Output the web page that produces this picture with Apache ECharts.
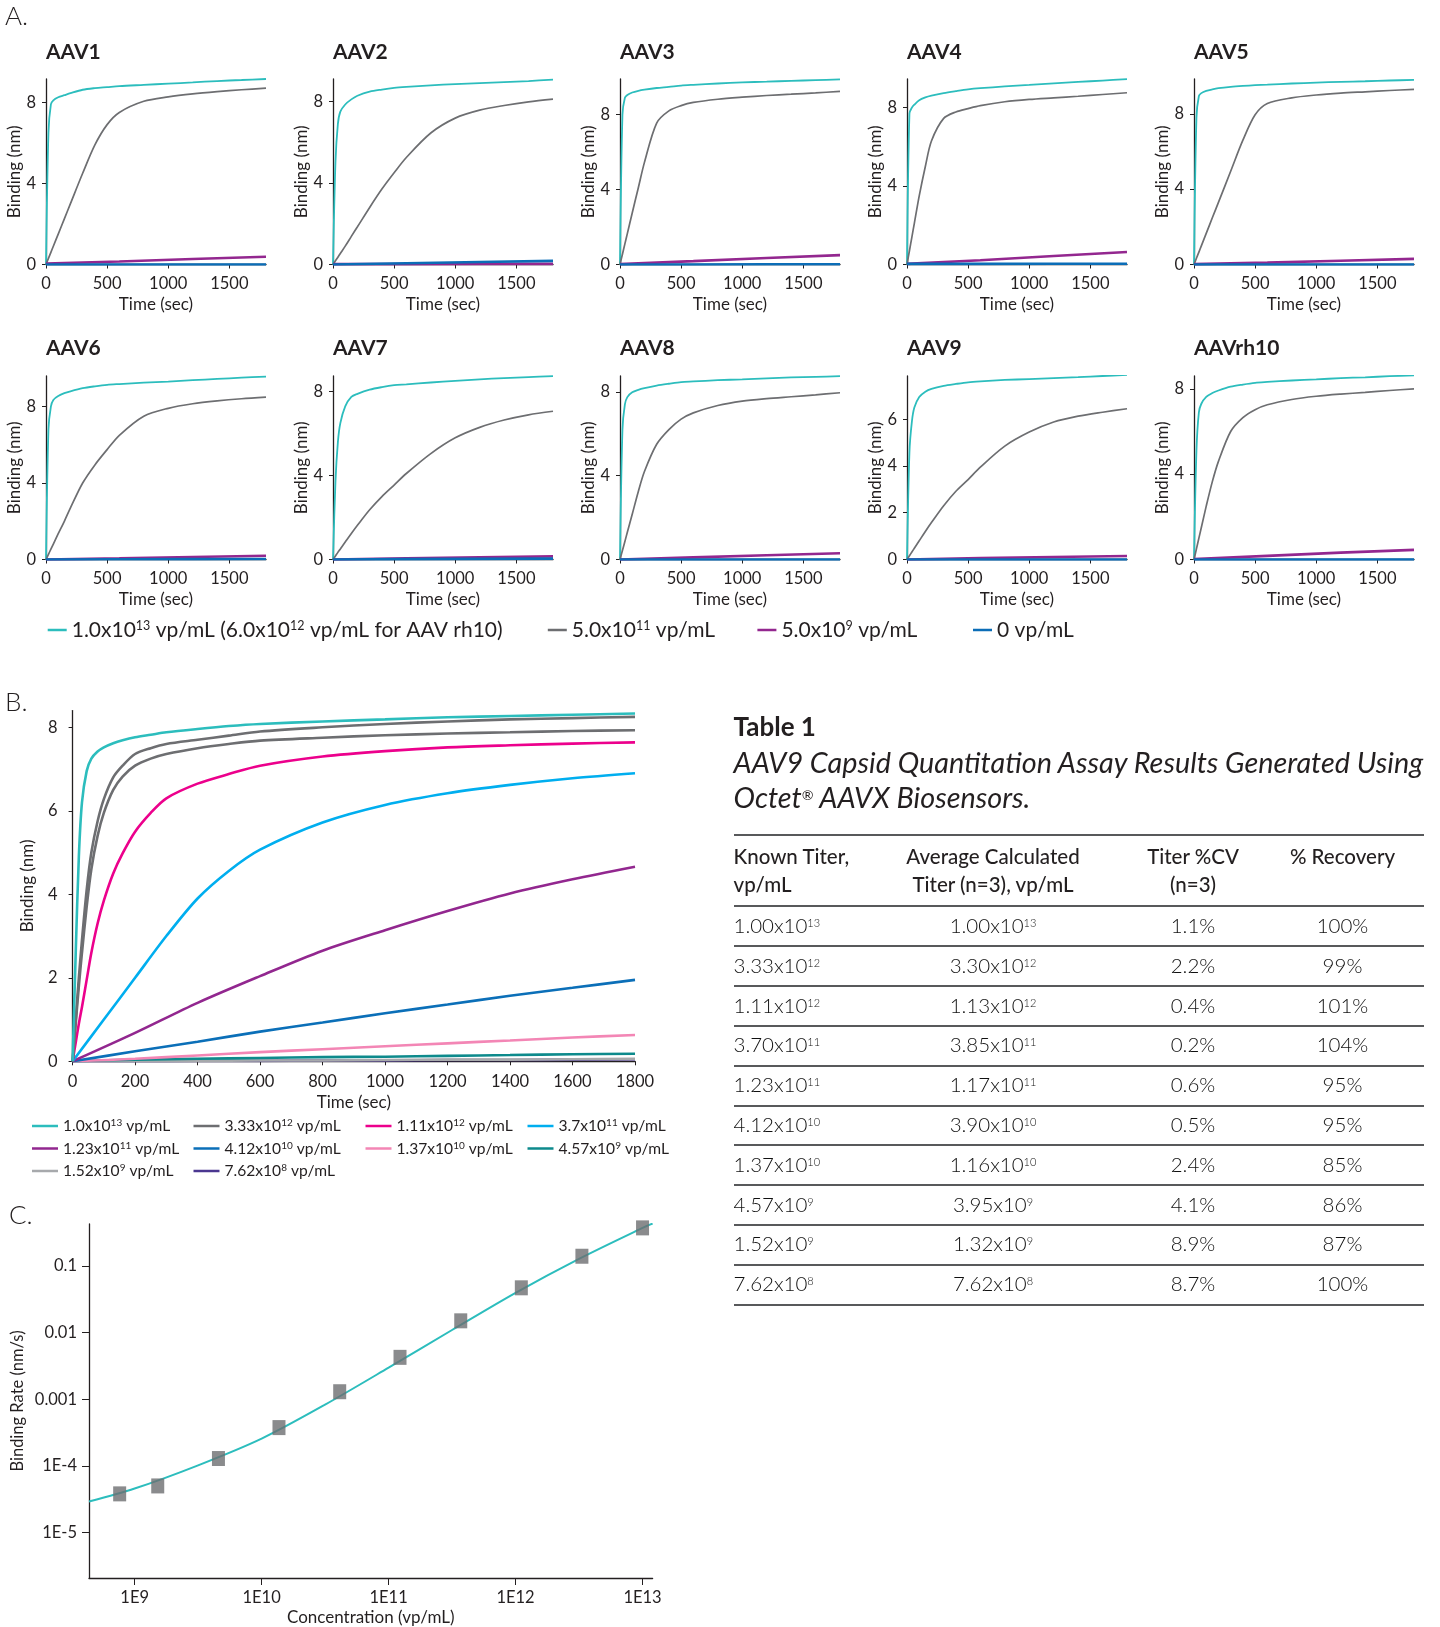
<!DOCTYPE html>
<html><head><meta charset="utf-8">
<script src="https://cdn.jsdelivr.net/npm/echarts@6/dist/echarts.min.js"></script>
<style>
html,body{margin:0;padding:0;background:#fff;}
#chart{position:absolute;left:0;top:0;width:1440px;height:1627px;}
#tbl{position:absolute;left:0;top:0;width:1440px;height:1627px;pointer-events:none;font-family:Lato,"Open Sans",sans-serif;color:#231f20;}
#tbl div{position:absolute;white-space:nowrap;}
.sup{font-size:11px;vertical-align:top;position:relative;top:-3px;}
.rule{background:#58595b;height:1.5px;}
</style></head><body>
<div id="chart"></div>
<div id="tbl"></div>
<script>
// ---------------- Panel A data ----------------
const panelNames = ['AAV1','AAV2','AAV3','AAV4','AAV5','AAV6','AAV7','AAV8','AAV9','AAVrh10'];
const tA = [0,20,40,60,100,150,200,300,400,500,600,800,1000,1200,1400,1600,1800];
const tLow = [0,600,1200,1800];
const xTicksA = [0,500,1000,1500];

const aav1Hi  = [0,6.5,7.9,8.1,8.25,8.35,8.45,8.62,8.7,8.75,8.8,8.86,8.92,8.98,9.05,9.1,9.15];
const aav1Mid = [0,0.3,0.6,0.9,1.5,2.25,3.0,4.5,5.9,6.9,7.5,8.05,8.27,8.42,8.53,8.62,8.7];
const aav1Low = [0.05,0.15,0.27,0.38];
const aav1Zero= [0,0,0,0];

const aav2Hi  = [0,5.0,6.9,7.5,7.85,8.1,8.28,8.48,8.58,8.66,8.71,8.79,8.85,8.9,8.95,9.0,9.07];
const aav2Mid = [0,0.18,0.36,0.54,0.9,1.38,1.85,2.8,3.7,4.5,5.25,6.45,7.18,7.57,7.8,7.98,8.11];
const aav2Low = [0.02,0.02,0.03,0.03];
const aav2Zero= [0,0.06,0.12,0.18];

const aav3Hi  = [0,8.0,8.9,9.05,9.18,9.27,9.33,9.42,9.48,9.55,9.59,9.66,9.72,9.76,9.8,9.84,9.88];
const aav3Mid = [0,0.55,1.1,1.65,2.75,4.1,5.45,7.55,8.2,8.48,8.65,8.82,8.93,9.02,9.09,9.16,9.24];
const aav3Low = [0.02,0.18,0.35,0.5];
const aav3Zero= [0,0,0.01,0.01];

const aav4Hi  = [0,7.7,8.0,8.15,8.38,8.52,8.61,8.74,8.84,8.93,8.99,9.08,9.16,9.24,9.31,9.38,9.45];
const aav4Mid = [0,0.7,1.4,2.1,3.5,5.0,6.3,7.45,7.78,7.95,8.1,8.3,8.42,8.5,8.58,8.67,8.76];
const aav4Low = [0.03,0.22,0.43,0.64];
const aav4Zero= [0.03,0.03,0.04,0.04];

const aav5Hi  = [0,7.8,8.95,9.1,9.22,9.3,9.36,9.43,9.48,9.52,9.55,9.61,9.66,9.7,9.73,9.77,9.8];
const aav5Mid = [0,0.33,0.66,0.99,1.65,2.48,3.3,4.95,6.6,7.95,8.55,8.85,9.0,9.1,9.17,9.24,9.3];
const aav5Low = [0.02,0.1,0.2,0.3];
const aav5Zero= [0,0,0,0];

const aav6Hi  = [0,6.8,8.0,8.35,8.55,8.7,8.8,8.96,9.06,9.14,9.18,9.25,9.31,9.38,9.45,9.51,9.57];
const aav6Mid = [0,0.27,0.54,0.81,1.35,2.0,2.7,4.0,4.95,5.75,6.5,7.5,7.91,8.15,8.3,8.41,8.49];
const aav6Low = [0,0.06,0.13,0.2];
const aav6Zero= [0,0.01,0.02,0.03];

const aav7Hi  = [0,3.7,5.6,6.5,7.3,7.75,7.9,8.1,8.22,8.31,8.35,8.44,8.52,8.59,8.65,8.7,8.74];
const aav7Mid = [0,0.17,0.34,0.5,0.83,1.24,1.63,2.37,3.0,3.55,4.1,5.05,5.8,6.3,6.65,6.9,7.07];
const aav7Low = [0,0.06,0.11,0.15];
const aav7Zero= [0,0.02,0.03,0.04];

const aav8Hi  = [0,6.2,7.4,7.75,7.98,8.1,8.18,8.3,8.39,8.47,8.5,8.56,8.6,8.65,8.69,8.72,8.75];
const aav8Mid = [0,0.43,0.86,1.3,2.16,3.25,4.2,5.5,6.2,6.7,7.0,7.35,7.56,7.68,7.77,7.86,7.96];
const aav8Low = [0,0.1,0.2,0.3];
const aav8Zero= [0,0,0,0];

const aav9Hi  = [0,4.6,5.9,6.5,6.95,7.18,7.3,7.43,7.51,7.58,7.62,7.68,7.72,7.76,7.8,7.85,7.9];
const aav9Mid = [0,0.16,0.32,0.48,0.8,1.2,1.58,2.3,2.92,3.42,3.95,4.85,5.45,5.88,6.13,6.3,6.45];
const aav9Low = [0,0.06,0.11,0.15];
const aav9Zero= [0,0,0,0];

const aavRh10Hi  = [0,5.1,6.9,7.3,7.62,7.8,7.92,8.1,8.2,8.28,8.32,8.39,8.44,8.5,8.54,8.59,8.63];
const aavRh10Mid = [0,0.5,1.0,1.5,2.5,3.65,4.6,6.0,6.65,7.02,7.25,7.5,7.65,7.75,7.83,7.92,8.0];
const aavRh10Low = [0.02,0.17,0.32,0.45];
const aavRh10Zero= [0,0,0,0];

const yMaxA = [9.15,9.1,9.9,9.46,9.85,9.6,8.75,8.76,7.85,8.6];
const yTicksA = [[0,4,8],[0,4,8],[0,4,8],[0,4,8],[0,4,8],[0,4,8],[0,4,8],[0,4,8],[0,2,4,6],[0,4,8]];

const seriesNamesA = ['1.0x10¹³ vp/mL (6.0x10¹² vp/mL for AAV rh10)','5.0x10¹¹ vp/mL','5.0x10⁹ vp/mL','0 vp/mL'];
const legendTextA = ['1.0x10{s|13} vp/mL (6.0x10{s|12} vp/mL for AAV rh10)','5.0x10{s|11} vp/mL','5.0x10{s|9} vp/mL','0 vp/mL'];
const colorsA = ['#2cbdbd','#6d6e71','#93278f','#0b6db7'];

// ---------------- Panel B data ----------------
const tB = [0,10,20,30,45,60,80,100,130,160,200,250,300,400,500,600,800,1000,1200,1400,1600,1800];
const tB2 = [0,100,200,300,400,500,600,800,1000,1200,1400,1600,1800];
const tB3 = [0,200,400,600,800,1000,1200,1400,1600,1800];
const b1e13    = [0,2.6,4.9,6.2,6.95,7.25,7.42,7.52,7.62,7.69,7.76,7.82,7.88,7.96,8.03,8.08,8.14,8.19,8.24,8.27,8.3,8.33];
const b333e12a = [0,1.0,2.0,2.9,4.1,5.0,5.75,6.28,6.8,7.08,7.36,7.5,7.6,7.7,7.8,7.9,8.0,8.08,8.14,8.19,8.22,8.25];
const b333e12b = [0,0.9,1.8,2.6,3.7,4.6,5.4,5.95,6.5,6.82,7.08,7.25,7.36,7.5,7.6,7.68,7.75,7.81,7.85,7.88,7.91,7.93];
const b111e12  = [0,0.45,0.9,1.3,1.95,2.6,3.3,3.85,4.5,4.98,5.5,5.95,6.3,6.65,6.88,7.08,7.3,7.43,7.52,7.57,7.61,7.64];
const b37e11   = [0,1.0,2.0,3.0,3.9,4.56,5.07,5.72,6.14,6.42,6.62,6.78,6.9];
const b123e11  = [0,0.68,1.4,2.04,2.65,3.14,3.6,4.02,4.36,4.66];
const b412e10  = [0,0.24,0.47,0.71,0.93,1.15,1.36,1.57,1.76,1.95];
const b137e10  = [0,0.06,0.14,0.22,0.29,0.36,0.43,0.5,0.57,0.63];
const b457e9   = [0,0.04,0.06,0.08,0.1,0.11,0.13,0.15,0.17,0.18];
const b152e9   = [0,0,0.01,0.02,0.02,0.03,0.04,0.04,0.05,0.06];
const b762e8   = [0,0,0.01,0.01,0.02,0.02,0.03,0.03,0.04,0.05];

const concMantB = ['1.0','3.33','1.11','3.7','1.23','4.12','1.37','4.57','1.52','7.62'];
const concExpB  = [13,12,12,11,11,10,10,9,9,8];
const colorsB = ['#2cbdbd','#6d6e71','#ec008c','#00aeef','#92278f','#0b6fb8','#f386b5','#0d8a8c','#a7a9ac','#4b3790'];
const yTicksB = [0,2,4,6,8];

// ---------------- Panel C data ----------------
const cConc = [7.62e8,1.52e9,4.57e9,1.37e10,4.12e10,1.23e11,3.70e11,1.11e12,3.33e12,1.00e13];
const cRate = [3.8e-5,5.0e-5,1.29e-4,3.76e-4,1.30e-3,4.27e-3,1.51e-2,4.73e-2,0.141,0.376];
const fitConc = [4.37e8,1e9,3.16e9,1e10,3.16e10,1e11,3.16e11,1e12,3.16e12,1e13,1.2e13];
const fitRate = [2.92e-5,4.57e-5,1.02e-4,2.57e-4,8.32e-4,2.99e-3,1.10e-2,3.98e-2,0.129,0.376,0.437];
const cTickX = [1e9,1e10,1e11,1e12,1e13];
const cTickXLabels = ['1E9','1E10','1E11','1E12','1E13'];
const cTickY = [1e-5,1e-4,1e-3,1e-2,1e-1];
const cTickYLabels = ['1E-5','1E-4','0.001','0.01','0.1'];

// ---------------- Table data ----------------
const knownMant = ['1.00','3.33','1.11','3.70','1.23','4.12','1.37','4.57','1.52','7.62'];
const knownExp  = [13,12,12,11,11,10,10,9,9,8];
const calcMant  = ['1.00','3.30','1.13','3.85','1.17','3.90','1.16','3.95','1.32','7.62'];
const calcExp   = [13,12,12,11,11,10,10,9,9,8];
const titerCV   = ['1.1%','2.2%','0.4%','0.2%','0.6%','0.5%','2.4%','4.1%','8.9%','8.7%'];
const recovery  = ['100%','99%','101%','104%','95%','95%','85%','86%','87%','100%'];

// ---------------- Build chart ----------------
const FONT = 'Lato, "Open Sans", sans-serif';
const INK = '#231f20';
const TICK_FS = 16.5, NAME_FS = 17;
const plain = v => String(v);
const panelsA = [
  [aav1Hi,aav1Mid,aav1Low,aav1Zero],[aav2Hi,aav2Mid,aav2Low,aav2Zero],[aav3Hi,aav3Mid,aav3Low,aav3Zero],
  [aav4Hi,aav4Mid,aav4Low,aav4Zero],[aav5Hi,aav5Mid,aav5Low,aav5Zero],[aav6Hi,aav6Mid,aav6Low,aav6Zero],
  [aav7Hi,aav7Mid,aav7Low,aav7Zero],[aav8Hi,aav8Mid,aav8Low,aav8Zero],[aav9Hi,aav9Mid,aav9Low,aav9Zero],
  [aavRh10Hi,aavRh10Mid,aavRh10Low,aavRh10Zero]
];
const zip = (xs, ys) => xs.map((x, k) => [x, ys[k]]);

const grids = [], xAxes = [], yAxes = [], series = [], graphics = [], legends = [];
const axisCommon = (extra) => Object.assign({
  axisLine: {show: true, onZero: false, lineStyle: {color: INK, width: 1.3}},
  splitLine: {show: false},
  nameTextStyle: {fontSize: NAME_FS, color: INK, fontFamily: FONT},
}, extra);

panelNames.forEach((nm, i) => {
  const col = i % 5, row = Math.floor(i / 5);
  const left = 46 + 287 * col;
  const top = row === 0 ? 79 : 376;
  const height = row === 0 ? 185.5 : 183.5;
  grids.push({left: left, top: top, width: 220, height: height, containLabel: false, outerBoundsMode: 'none'});
  xAxes.push(axisCommon({
    type: 'value', gridIndex: i, min: 0, max: 1800, interval: 500,
    axisTick: {show: true, length: 4, lineStyle: {color: INK}, customValues: xTicksA},
    axisLabel: {fontSize: TICK_FS, color: INK, fontFamily: FONT, margin: 10.5, customValues: xTicksA, formatter: plain},
    name: 'Time (sec)', nameLocation: 'middle', nameGap: 31.5
  }));
  const yt = yTicksA[i];
  yAxes.push(axisCommon({
    type: 'value', gridIndex: i, min: 0, max: yMaxA[i], interval: yt[1] - yt[0],
    axisTick: {show: true, length: 4, lineStyle: {color: INK}, customValues: yt},
    axisLabel: {fontSize: TICK_FS, color: INK, fontFamily: FONT, margin: 10, customValues: yt, formatter: plain},
    name: 'Binding (nm)', nameLocation: 'middle', nameGap: 21
  }));
  const d = panelsA[i];
  const widths = [1.8, 1.7, 2.6, 2.6];
  for (let s = 0; s < 4; s++) {
    series.push({
      type: 'line', name: seriesNamesA[s], xAxisIndex: i, yAxisIndex: i,
      data: zip(s < 2 ? tA : tLow, d[s]), showSymbol: false, symbol: 'none', smooth: s < 2 ? 0.3 : false,
      color: colorsA[s], lineStyle: {width: widths[s], color: colorsA[s]},
      animation: false, silent: true, z: 2 + s
    });
  }
  graphics.push({type: 'text', x: left, y: row === 0 ? 52 : 348.5,
    style: {text: nm, fill: INK, fontSize: 21, fontWeight: 'bold', fontFamily: FONT, verticalAlign: 'middle', align: 'left'}});
});

// legend A
const legALeft = [47.7, 547.8, 757.4, 973];
seriesNamesA.forEach((nm, k) => {
  legends.push({
    data: [nm], left: legALeft[k], top: 619.5, padding: 0, icon: 'rect', itemWidth: 19, itemHeight: 2.5,
    selectedMode: false, formatter: () => legendTextA[k],
    textStyle: {fontSize: 21, color: INK, fontFamily: FONT, rich: {s: {fontSize: 12.5, fontFamily: FONT, color: INK, verticalAlign: 'top', lineHeight: 12}}}
  });
});

// Panel B
const gB = 10;
grids.push({left: 72.6, top: 710.6, width: 562.4, height: 350.7, containLabel: false, outerBoundsMode: 'none'});
xAxes.push(axisCommon({
  type: 'value', gridIndex: gB, min: 0, max: 1800, interval: 200,
  axisTick: {show: true, length: 4, lineStyle: {color: INK}},
  axisLabel: {fontSize: TICK_FS, color: INK, fontFamily: FONT, margin: 12, formatter: plain},
  name: 'Time (sec)', nameLocation: 'middle', nameGap: 33
}));
yAxes.push(axisCommon({
  type: 'value', gridIndex: gB, min: 0, max: 8.4, interval: 2,
  axisTick: {show: true, length: 4, lineStyle: {color: INK}, customValues: yTicksB},
  axisLabel: {fontSize: TICK_FS, color: INK, fontFamily: FONT, margin: 15, customValues: yTicksB, formatter: plain},
  name: 'Binding (nm)', nameLocation: 'middle', nameGap: 37
}));
const namesB = concMantB.map((m, k) => m + 'x10^' + concExpB[k] + ' vp/mL');
const legendTextB = concMantB.map((m, k) => m + 'x10{s|' + concExpB[k] + '} vp/mL');
const dataB = [
  [zip(tB, b1e13)], [zip(tB, b333e12a), zip(tB, b333e12b)], [zip(tB, b111e12)], [zip(tB2, b37e11)],
  [zip(tB3, b123e11)], [zip(tB3, b412e10)], [zip(tB3, b137e10)], [zip(tB3, b457e9)], [zip(tB3, b152e9)], [zip(tB3, b762e8)]
];
const drawOrderB = [9,8,7,6,5,4,3,2,1,0];
drawOrderB.forEach((k, ord) => {
  dataB[k].forEach(d => {
    series.push({
      type: 'line', name: namesB[k], xAxisIndex: gB, yAxisIndex: gB, data: d, smooth: 0.3,
      showSymbol: false, symbol: 'none', color: colorsB[k], lineStyle: {width: 2.6, color: colorsB[k]},
      animation: false, silent: true, z: 2 + ord
    });
  });
});
const legBCols = [[0,4,8],[1,5,9],[2,6],[3,7]];
const legBLeft = [32, 193.5, 365.5, 527.5];
legBCols.forEach((cols, c) => {
  legends.push({
    data: cols.map(k => namesB[k]), left: legBLeft[c], top: 1118, padding: 0, orient: 'vertical', itemGap: 6.5,
    icon: 'rect', itemWidth: 26, itemHeight: 2.5, selectedMode: false,
    formatter: (n) => legendTextB[namesB.indexOf(n)],
    textStyle: {fontSize: 15.6, color: INK, fontFamily: FONT, rich: {s: {fontSize: 10, fontFamily: FONT, color: INK, verticalAlign: 'top', lineHeight: 10}}}
  });
});

// Panel C
const gC = 11;
grids.push({left: 89, top: 1224, width: 563.6, height: 354, containLabel: false, outerBoundsMode: 'none'});
xAxes.push(axisCommon({
  type: 'log', logBase: 10, gridIndex: gC, min: 4.37e8, max: 1.2e13,
  axisTick: {show: true, length: 7, lineStyle: {color: INK}, customValues: cTickX},
  axisLabel: {fontSize: TICK_FS, color: INK, fontFamily: FONT, margin: 11, customValues: cTickX,
    formatter: v => cTickXLabels[Math.round(Math.log10(v)) - 9] || ''},
  name: 'Concentration (vp/mL)', nameLocation: 'middle', nameGap: 31.5
}));
yAxes.push(axisCommon({
  type: 'log', logBase: 10, gridIndex: gC, min: 2.07e-6, max: 0.43,
  axisTick: {show: true, length: 7, lineStyle: {color: INK}, customValues: cTickY},
  axisLabel: {fontSize: TICK_FS, color: INK, fontFamily: FONT, margin: 12, customValues: cTickY,
    formatter: v => cTickYLabels[Math.round(Math.log10(v)) + 5] || ''},
  name: 'Binding Rate (nm/s)', nameLocation: 'middle', nameGap: 63, nameTextStyle: {fontSize: 16.5, color: INK, fontFamily: FONT}
}));
series.push({type: 'line', name: 'fit', xAxisIndex: gC, yAxisIndex: gC, data: zip(fitConc, fitRate),
  smooth: 0.3, showSymbol: false, symbol: 'none', color: '#2cbdbd', lineStyle: {width: 2, color: '#2cbdbd'},
  animation: false, silent: true, z: 2});
series.push({type: 'scatter', name: 'points', xAxisIndex: gC, yAxisIndex: gC, data: zip(cConc, cRate),
  symbol: 'rect', symbolSize: [13, 15], itemStyle: {color: '#6d6e71'}, animation: false, silent: true, z: 5});

// letters
[['A.', 5, 17], ['B.', 5, 703], ['C.', 9, 1216]].forEach(([t, x, y]) => {
  graphics.push({type: 'text', x: x, y: y, style: {text: t, fill: INK, fontSize: 26, fontWeight: 300, fontFamily: FONT, verticalAlign: 'middle', align: 'left'}});
});

const chart = echarts.init(document.getElementById('chart'), null, {renderer: 'canvas', width: 1440, height: 1627});
chart.setOption({
  backgroundColor: '#fff',
  animation: false,
  textStyle: {fontFamily: FONT},
  tooltip: {show: false},
  grid: grids, xAxis: xAxes, yAxis: yAxes, series: series, legend: legends, graphic: graphics
});

// ---------------- Table ----------------
const tbl = document.getElementById('tbl');
function add(html, style) { const d = document.createElement('div'); d.innerHTML = html; Object.assign(d.style, style); tbl.appendChild(d); return d; }
const sup = (m, e) => m + 'x10<span class="sup">' + e + '</span>';
add('Table 1', {left: '733.5px', top: '711px', fontSize: '26px', fontWeight: '700', lineHeight: '30px'});
add('AAV9 Capsid Quantitation Assay Results Generated Using<br>Octet<span style="font-size:14px;vertical-align:top;position:relative;top:-2px">®</span> AAVX Biosensors.',
  {left: '733.5px', top: '745px', fontSize: '28.8px', fontStyle: 'italic', lineHeight: '34.5px', fontWeight: '400'});
const TL = 733.5, TW = 690;
add('', {left: TL + 'px', top: '834px', width: TW + 'px'}).className = 'rule';
const cols = [{l: 733.5, w: 200, a: 'left'}, {l: 893, w: 200, a: 'center'}, {l: 1123, w: 140, a: 'center'}, {l: 1272.5, w: 140, a: 'center'}];
const heads = ['Known Titer,<br>vp/mL', 'Average Calculated<br>Titer (n=3), vp/mL', 'Titer %CV<br>(n=3)', '% Recovery'];
heads.forEach((h, c) => add(h, {left: cols[c].l + 'px', width: cols[c].w + 'px', textAlign: cols[c].a, top: '842px', fontSize: '20.5px', lineHeight: '28px', fontWeight: '500'}));
add('', {left: TL + 'px', top: '905px', width: TW + 'px'}).className = 'rule';
const rowH = 39.8;
knownMant.forEach((m, k) => {
  const top = 906 + k * rowH;
  const vals = [sup(m, knownExp[k]), sup(calcMant[k], calcExp[k]), titerCV[k], recovery[k]];
  vals.forEach((v, c) => add(v, {left: cols[c].l + 'px', width: cols[c].w + 'px', textAlign: cols[c].a, top: top + 'px', height: rowH + 'px', lineHeight: rowH + 'px', fontSize: '20.5px', fontWeight: '300', color: '#111'}));
  add('', {left: TL + 'px', top: Math.round(top + rowH - 0.5) + 'px', width: TW + 'px'}).className = 'rule';
});
</script></body></html>
